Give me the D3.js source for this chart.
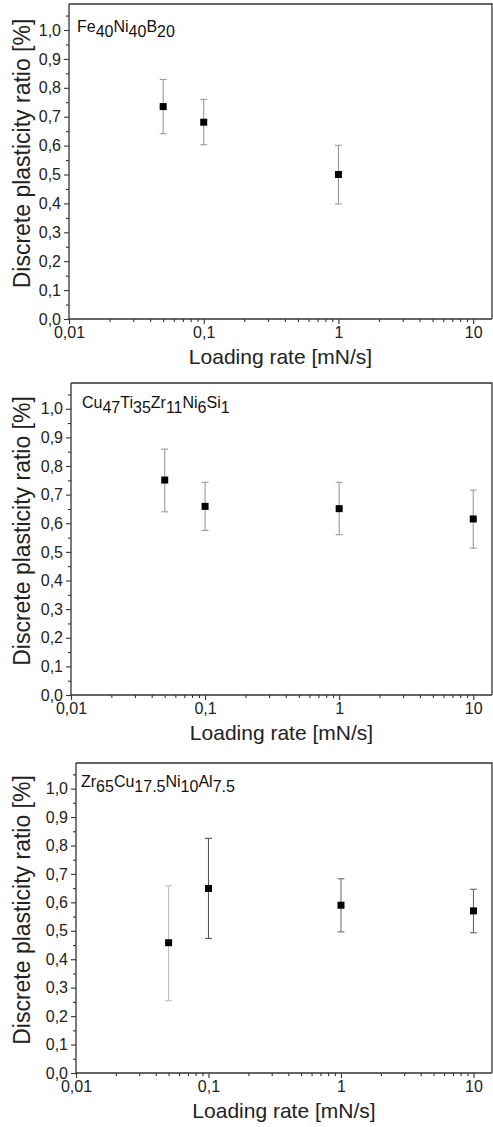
<!DOCTYPE html>
<html>
<head>
<meta charset="utf-8">
<script src="https://cdn.jsdelivr.net/npm/d3@7"></script>
<style>
  body { margin: 0; background: #fff; }
  svg { display: block; font-family: "Liberation Sans", Arial, sans-serif; }
</style>
</head>
<body>
<div id="chart"></div>
<script>
// loading rates (mN/s)
const ratesFe = [0.05, 0.1, 1];
const ratesCu = [0.05, 0.1, 1, 10];
const ratesZr = [0.05, 0.1, 1, 10];

// discrete plasticity ratio, mean and error bar ends
const feMean = [0.735, 0.681, 0.500];
const feHi   = [0.829, 0.760, 0.601];
const feLo   = [0.641, 0.603, 0.398];

const cuMean = [0.751, 0.659, 0.651, 0.615];
const cuHi   = [0.859, 0.743, 0.743, 0.716];
const cuLo   = [0.640, 0.575, 0.560, 0.513];

const zrMean = [0.458, 0.649, 0.590, 0.570];
const zrHi   = [0.658, 0.825, 0.683, 0.646];
const zrLo   = [0.254, 0.473, 0.496, 0.493];

// alloy labels: [text, isSubscript]
const feLabel = [["Fe", 0], ["40", 1], ["Ni", 0], ["40", 1], ["B", 0], ["20", 1]];
const cuLabel = [["Cu", 0], ["47", 1], ["Ti", 0], ["35", 1], ["Zr", 0], ["11", 1], ["Ni", 0], ["6", 1], ["Si", 0], ["1", 1]];
const zrLabel = [["Zr", 0], ["65", 1], ["Cu", 0], ["17.5", 1], ["Ni", 0], ["10", 1], ["Al", 0], ["7.5", 1]];

const xMajor = [0.01, 0.1, 1, 10];
const xMajorLabels = ["0,01", "0,1", "1", "10"];
const yMajor = d3.range(0, 11).map(i => i / 10);
const yMinor = d3.range(0, 11).map(i => i / 10 + 0.05);

const xTitle = "Loading rate [mN/s]";
const yTitle = "Discrete plasticity ratio [%]";

const W = 493, H = 1127;
const font = "'Liberation Sans', Arial, sans-serif";
const svg = d3.select("#chart").append("svg")
  .attr("width", W).attr("height", H);

const xMinor = [];
[0.01, 0.1, 1].forEach(d => { for (let k = 2; k <= 9; k++) xMinor.push(d * k); });

const panels = [
  { rates: ratesFe, mean: feMean, hi: feHi, lo: feLo, label: feLabel,
    box: { left: 69, top: 4, bottom: 319 }, labelPos: [77, 32],
    barColors: ["#9a9a9a", "#9a9a9a", "#9a9a9a"] },
  { rates: ratesCu, mean: cuMean, hi: cuHi, lo: cuLo, label: cuLabel,
    box: { left: 71, top: 383, bottom: 695 }, labelPos: [82, 408],
    barColors: ["#9a9a9a", "#9a9a9a", "#9a9a9a", "#9a9a9a"] },
  { rates: ratesZr, mean: zrMean, hi: zrHi, lo: zrLo, label: zrLabel,
    box: { left: 76, top: 763, bottom: 1073 }, labelPos: [81, 787],
    barColors: ["#bdbdbd", "#555", "#707070", "#666"] }
];

const right = 492;
const axisColor = "#333";

panels.forEach(p => {
  const b = p.box;
  const x = d3.scaleLog().domain([0.01, 13.8]).range([b.left, right]);
  const y = d3.scaleLinear().domain([0, 1.09]).range([b.bottom, b.top]);
  const g = svg.append("g");

  // frame: top and right lines
  g.append("path")
    .attr("d", `M${b.left},${b.top}H${right}V${b.bottom}`)
    .attr("fill", "none").attr("stroke", axisColor).attr("stroke-width", 1.3);

  // y axis
  const yAx = g.append("g").attr("transform", `translate(${b.left},0)`)
    .call(d3.axisLeft(y).tickValues(yMajor).tickSize(5).tickPadding(3)
      .tickFormat(d => d3.format(".1f")(d).replace(".", ",")));
  g.append("g").attr("transform", `translate(${b.left},0)`)
    .call(d3.axisLeft(y).tickValues(yMinor).tickSize(3).tickFormat(""))
    .select(".domain").remove();

  // x axis
  const xAx = g.append("g").attr("transform", `translate(0,${b.bottom})`)
    .call(d3.axisBottom(x).tickValues(xMajor).tickSize(5).tickPadding(3)
      .tickFormat((d, i) => xMajorLabels[i]));
  g.append("g").attr("transform", `translate(0,${b.bottom})`)
    .call(d3.axisBottom(x).tickValues(xMinor).tickSize(3).tickFormat(""))
    .select(".domain").remove();

  g.selectAll(".domain").attr("stroke", axisColor).attr("stroke-width", 1.3);
  g.selectAll(".tick line").attr("stroke", axisColor).attr("stroke-width", 1.1);
  g.selectAll(".tick text").attr("font-family", font)
    .attr("font-size", 16).attr("fill", "#222");
  yAx.select(".domain").attr("d", `M0,${b.top}V${b.bottom}`);
  xAx.select(".domain").attr("d", `M${b.left},0H${right}`);

  // axis titles
  g.append("text")
    .attr("x", (b.left + right) / 2).attr("y", b.bottom + 45)
    .attr("text-anchor", "middle").attr("font-size", 21).attr("fill", "#222")
    .text(xTitle);
  const cy = (b.top + b.bottom) / 2 - 8;
  g.append("text")
    .attr("transform", `translate(30,${cy}) rotate(-90)`)
    .attr("text-anchor", "middle").attr("font-size", 23).attr("fill", "#222")
    .text(yTitle);

  // alloy label
  const t = g.append("text")
    .attr("x", p.labelPos[0]).attr("y", p.labelPos[1])
    .attr("font-size", 16).attr("fill", "#111");
  let prevSub = 0;
  p.label.forEach(([s, sub]) => {
    t.append("tspan").attr("dy", sub === prevSub ? 0 : (sub ? 5 : -5)).text(s);
    prevSub = sub;
  });

  // error bars and points
  const pts = p.rates.map((r, i) => ({ r, m: p.mean[i], hi: p.hi[i], lo: p.lo[i], c: p.barColors[i] }));
  const eb = g.append("g").selectAll("g").data(pts).join("g")
    .attr("stroke", d => d.c).attr("stroke-width", 1.1);
  eb.append("line")
    .attr("x1", d => x(d.r)).attr("x2", d => x(d.r))
    .attr("y1", d => y(d.hi)).attr("y2", d => y(d.lo));
  eb.append("line")
    .attr("x1", d => x(d.r) - 3.5).attr("x2", d => x(d.r) + 3.5)
    .attr("y1", d => y(d.hi)).attr("y2", d => y(d.hi));
  eb.append("line")
    .attr("x1", d => x(d.r) - 3.5).attr("x2", d => x(d.r) + 3.5)
    .attr("y1", d => y(d.lo)).attr("y2", d => y(d.lo));

  g.append("g").selectAll("rect").data(pts).join("rect")
    .attr("x", d => x(d.r) - 3.5).attr("y", d => y(d.m) - 3.5)
    .attr("width", 7).attr("height", 7).attr("fill", "#000");
});
</script>
</body>
</html>
